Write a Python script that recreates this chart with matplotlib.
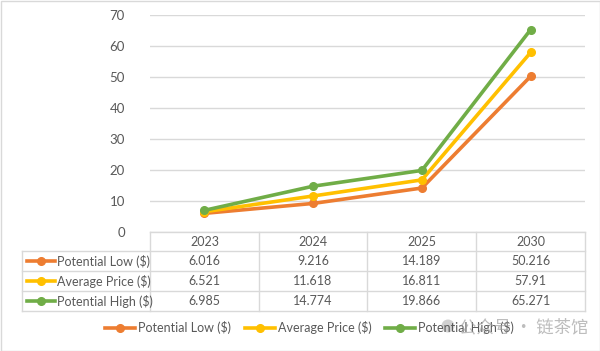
import numpy as np
import matplotlib.pyplot as plt
from matplotlib.patches import Rectangle, Circle

# chart data
years = ["2023", "2024", "2025", "2030"]
series_names = ["Potential Low ($)", "Average Price ($)", "Potential High ($)"]
low = [6.016, 9.216, 14.189, 50.216]
avg = [6.521, 11.618, 16.811, 57.91]
high = [6.985, 14.774, 19.866, 65.271]
y_ticks = [0, 10, 20, 30, 40, 50, 60, 70]

colors = ["#ED7D31", "#FFC000", "#70AD47"]
txt = "#595959"
grid = "#D9D9D9"

plt.rcParams['font.family'] = ['Lato', 'DejaVu Sans']

W, H = 600, 351
fig = plt.figure(figsize=(6, 3.51), dpi=100)

# plot area in pixels
px0, px1, py_top, py_bot = 150, 585, 15, 232
ax = fig.add_axes([px0 / W, 1 - py_bot / H, (px1 - px0) / W, (py_bot - py_top) / H])
x = np.arange(len(years))
for vals, c in zip([low, avg, high], colors):
    ax.plot(x, vals, color=c, lw=2.6, marker="o", ms=5.5, solid_capstyle="round")
ax.set_xlim(-0.5, len(years) - 0.5)
ax.set_ylim(0, 70)
ax.set_yticks(y_ticks)
ax.set_yticklabels([str(t) for t in y_ticks], color=txt, fontsize=9.5)
ax.set_xticks([])
ax.tick_params(axis="y", length=0, pad=18)
ax.grid(axis="y", color=grid, lw=1)
ax.set_axisbelow(True)
for s in ax.spines.values():
    s.set_visible(False)

# overlay in pixel coordinates for the data table and legend
ov = fig.add_axes([0, 0, 1, 1])
ov.set_xlim(0, W)
ov.set_ylim(H, 0)
ov.axis("off")
ov.patch.set_alpha(0)

col_edges = [22, 150, 259, 367, 476, 585]
row_edges = [232, 251, 271, 291, 311]
lc = "#D9D9D9"
# horizontal lines
ov.plot([col_edges[1], col_edges[-1]], [row_edges[0]] * 2, color=lc, lw=1)
for r in row_edges[1:]:
    ov.plot([col_edges[0], col_edges[-1]], [r, r], color=lc, lw=1)
# vertical lines
for c in col_edges[1:]:
    ov.plot([c, c], [row_edges[0], row_edges[-1]], color=lc, lw=1)
ov.plot([col_edges[0]] * 2, [row_edges[1], row_edges[-1]], color=lc, lw=1)

# header
for i, yr in enumerate(years):
    cx = (col_edges[i + 1] + col_edges[i + 2]) / 2
    ov.text(cx, (row_edges[0] + row_edges[1]) / 2, yr, ha="center", va="center",
            color=txt, fontsize=9)

# rows
for j, (name, vals) in enumerate(zip(series_names, [low, avg, high])):
    cy = (row_edges[j + 1] + row_edges[j + 2]) / 2
    ov.plot([27, 55], [cy, cy], color=colors[j], lw=2.6)
    ov.plot([41], [cy], marker="o", color=colors[j], ms=5.5)
    ov.text(57, cy, name, ha="left", va="center", color=txt, fontsize=9)
    for i, v in enumerate(vals):
        cx = (col_edges[i + 1] + col_edges[i + 2]) / 2
        ov.text(cx, cy, "{:g}".format(v), ha="center", va="center", color=txt, fontsize=9)

# legend
leg_x = [105, 245, 385]
leg_y = 328
for lx, name, c in zip(leg_x, series_names, colors):
    ov.plot([lx, lx + 30], [leg_y, leg_y], color=c, lw=2.6)
    ov.plot([lx + 15], [leg_y], marker="o", color=c, ms=5.5)
    ov.text(lx + 33, leg_y, name, ha="left", va="center", color=txt, fontsize=9)

# watermark
ov.add_patch(Circle((448, 326), 6.5, color="#9a9a9a", alpha=0.45, lw=0))
ov.text(459, 327, "公众号 · 链茶馆", ha="left", va="center", color="#9a9a9a", alpha=0.65,
        fontsize=12.5, family=["Noto Sans CJK SC", "DejaVu Sans"])

# outer border
ov.add_patch(Rectangle((0.5, 0.5), W - 1, H - 1, fill=False, ec="#D9D9D9", lw=1))

fig.savefig("out.png", dpi=100)
